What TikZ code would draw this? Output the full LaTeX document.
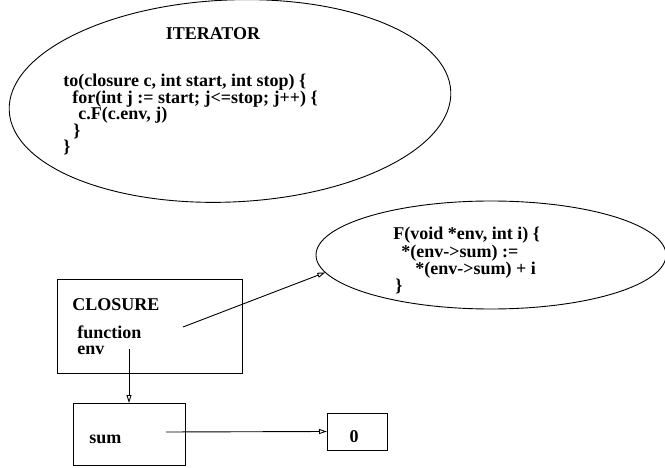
\documentclass[tikz,border=0pt]{standalone}
\usepackage{fontspec}
\setmainfont{Liberation Serif}
\usetikzlibrary{shapes.geometric,arrows.meta}

\begin{document}
\begin{tikzpicture}[x=1pt, y=-1pt, line width=0.9pt,
  lbl/.style={anchor=base west, inner sep=0pt, font=\bfseries\fontsize{18}{18}\selectfont},
  bubble/.style={draw, ellipse, inner sep=0pt, outer sep=0pt},
  cell/.style={draw, rectangle, inner sep=0pt, outer sep=0pt},
  ptr/.style={-{Triangle[open, length=8pt, width=5pt]}}]
  \useasboundingbox (0,0) rectangle (665,468);

  \node[bubble, minimum width=442pt, minimum height=202pt, rotate=2.5] (iter) at (230,101) {};
  \node[lbl, anchor=base] (itname) at (213,40) {ITERATOR};
  \node[lbl] (it1) at (63,87) {to(closure c, int start, int stop) \{};
  \node[lbl] (it2) at (72,103.5) {for(int j := start; j<=stop; j++) \{};
  \node[lbl] (it3) at (78,120) {c.F(c.env, j)};
  \node[lbl] (it4) at (73,136.5) {\}};
  \node[lbl] (it5) at (63,153) {\}};

  \node[bubble, minimum width=350pt, minimum height=108pt] (fbody) at (491,255) {};
  \node[lbl] (fb1) at (393,240) {F(void *env, int i) \{};
  \node[lbl] (fb2) at (401,258) {*(env->sum) :=};
  \node[lbl] (fb3) at (415,275) {*(env->sum) + i};
  \node[lbl] (fb4) at (395,292) {\}};

  \node[cell, minimum width=185pt, minimum height=94pt] (closure) at (149.5,326) {};
  \node[lbl] (clname) at (72,310) {CLOSURE};
  \node[lbl] (clfn) at (77,338) {function};
  \node[lbl] (clenv) at (77,355) {env};

  \node[cell, minimum width=112pt, minimum height=62pt] (sumbox) at (129,434) {};
  \node[lbl] (sumname) at (89,443) {sum};
  \node[cell, minimum width=60pt, minimum height=37pt] (zerobox) at (357,431.5) {};
  \node[lbl, anchor=base] (zero) at (354,442) {0};

  \coordinate (fnptr) at (183,327);
  \coordinate (envptr) at (129,349);
  \coordinate (sumptr) at (166,432);
  \draw[ptr] (fnptr) -- (fbody.186);
  \draw[ptr] (envptr) -- (sumbox.north);
  \draw[ptr] (sumptr) -- (zerobox.west);
\end{tikzpicture}
\end{document}
